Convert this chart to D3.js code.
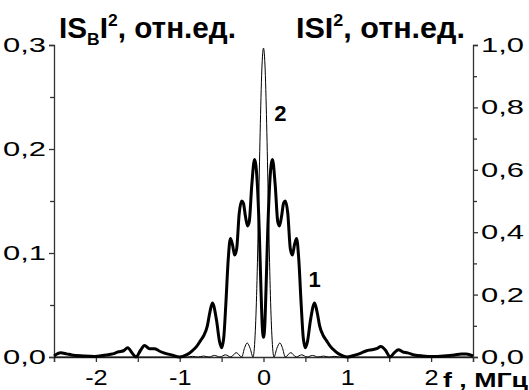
<!DOCTYPE html>
<html><head><meta charset="utf-8">
<script src="https://cdn.jsdelivr.net/npm/d3@7"></script>
<style>
html,body{margin:0;padding:0;background:#fff;}
svg text{font-family:"Liberation Sans",Arial,sans-serif;fill:#000;}
</style></head>
<body>
<svg id="c" width="529" height="390"></svg>
<script>
// Curve 1 (thick, left axis |S_B|^2): frequency (MHz) and value
const f1 = [-2.5,-2.42,-2.35,-2.29,-2.15,-2.02,-1.88,-1.8,-1.73,-1.67,-1.62,-1.57,-1.52,-1.47,-1.42,-1.36,-1.3,-1.25,-1.19,-1.1,-1.0,
  -0.92,-0.85,-0.8,-0.75,-0.71,-0.67,-0.64,-0.61,-0.56,-0.525,-0.5,-0.475,-0.45,-0.42,-0.395,-0.37,-0.345,-0.32,-0.29,-0.26,-0.24,-0.215,-0.19,-0.17,-0.14,-0.107,-0.075,-0.05,-0.03,-0.015,0,
  0.015,0.03,0.05,0.075,0.107,0.14,0.17,0.19,0.215,0.24,0.26,0.29,0.32,0.345,0.37,0.395,0.42,0.45,0.475,0.5,0.525,0.56,0.61,0.64,0.67,0.71,0.75,0.8,0.85,0.92,
  1.0,1.1,1.17,1.23,1.29,1.35,1.4,1.46,1.51,1.56,1.61,1.66,1.72,1.8,1.9,2.02,2.15,2.28,2.36,2.42,2.5];
const v1 = [0.001,0.004,0.003,0.002,0.001,0.0005,0.002,0.003,0.005,0.006,0.009,0.004,0.0,0.006,0.011,0.008,0.008,0.006,0.004,0.002,0.0,
  0.002,0.006,0.01,0.016,0.021,0.03,0.043,0.052,0.035,0.015,0.009,0.018,0.05,0.095,0.114,0.108,0.098,0.104,0.138,0.15,0.148,0.135,0.126,0.13,0.165,0.19,0.168,0.12,0.065,0.03,0.019,
  0.03,0.065,0.12,0.168,0.19,0.165,0.13,0.126,0.135,0.148,0.15,0.138,0.104,0.098,0.108,0.114,0.095,0.05,0.018,0.009,0.015,0.035,0.052,0.043,0.03,0.021,0.016,0.01,0.006,0.002,
  0.0,0.002,0.004,0.006,0.007,0.008,0.01,0.006,0.0,0.004,0.007,0.005,0.004,0.002,0.001,0.0005,0.001,0.002,0.003,0.003,0.001];

// Curve 2 (thin, right axis |S|^2)
const f2 = [-2.5,-1.0,-0.91,-0.845,-0.78,-0.715,-0.65,-0.585,-0.52,-0.455,-0.39,-0.325,-0.26,-0.225,-0.195,-0.16,-0.125,-0.1,-0.08,-0.06,-0.04,-0.02,0,
  0.02,0.04,0.06,0.08,0.1,0.125,0.16,0.195,0.225,0.26,0.325,0.39,0.455,0.52,0.585,0.65,0.715,0.78,0.845,0.91,1.0,2.5];
const v2 = [0,0,0,0.002,0,0.003,0,0.005,0,0.007,0,0.014,0,0.03,0.045,0.028,0,0.07,0.22,0.46,0.72,0.92,0.99,
  0.92,0.72,0.46,0.22,0.07,0,0.028,0.045,0.03,0,0.014,0,0.007,0,0.005,0,0.003,0,0.002,0,0,0];

const xMajor = [-2,-1,0,1,2];
const xMinor = [-2.5,-1.5,-0.5,0.5,1.5,2.5];
const yLeftMajor = [0,0.1,0.2,0.3];
const yLeftMinor = [0.05,0.15,0.25];
const yRightMajor = [0,0.2,0.4,0.6,0.8,1.0];
const yRightMinor = [0.1,0.3,0.5,0.7,0.9];

const svg = d3.select("#c");
const x = d3.scaleLinear().domain([-2.5,2.5]).range([54,473]);
const yL = d3.scaleLinear().domain([0,0.3]).range([357,45]);
const yR = d3.scaleLinear().domain([0,1]).range([357,45]);
const fmt = d => d3.format(".1f")(d).replace(".", ",");

function stretch(sel, w){
  sel.each(function(){
    this.setAttribute("textLength", w);
    this.setAttribute("lengthAdjust","spacingAndGlyphs");
  });
}
function styleAxis(g, fs){
  g.select(".domain").attr("stroke","#333").attr("stroke-width",1.3);
  g.selectAll(".tick line").attr("stroke","#333").attr("stroke-width",1.3);
  g.selectAll("text").attr("font-size",fs).attr("fill","#000");
}
// x axis
const gx = svg.append("g").attr("transform","translate(0,357)")
  .call(d3.axisBottom(x).tickValues(xMajor).tickSize(5).tickPadding(7).tickFormat(d=>String(d)));
styleAxis(gx, 22);
gx.selectAll(".tick text").each(function(){
  const w = this.getComputedTextLength();
  this.setAttribute("textLength", w*1.15);
  this.setAttribute("lengthAdjust","spacingAndGlyphs");
});
const gx2 = svg.append("g").attr("transform","translate(0,357)")
  .call(d3.axisBottom(x).tickValues(xMinor).tickSize(5).tickFormat(""));
styleAxis(gx2, 22); gx2.select(".domain").remove();

// left axis
const gl = svg.append("g").attr("transform","translate(54,0)")
  .call(d3.axisLeft(yL).tickValues(yLeftMajor).tickSize(5).tickPadding(3).tickFormat(fmt));
styleAxis(gl, 20);
stretch(gl.selectAll(".tick text"), 43);
const gl2 = svg.append("g").attr("transform","translate(54,0)")
  .call(d3.axisLeft(yL).tickValues(yLeftMinor).tickSize(4).tickFormat(""));
styleAxis(gl2, 20); gl2.select(".domain").remove();

// right axis
const gr = svg.append("g").attr("transform","translate(473,0)")
  .call(d3.axisRight(yR).tickValues(yRightMajor).tickSize(5).tickPadding(3).tickFormat(fmt));
styleAxis(gr, 20);
stretch(gr.selectAll(".tick text"), 43);
const gr2 = svg.append("g").attr("transform","translate(473,0)")
  .call(d3.axisRight(yR).tickValues(yRightMinor).tickSize(4).tickFormat(""));
styleAxis(gr2, 20); gr2.select(".domain").remove();

// curves
const d1 = f1.map((f,i)=>[f,v1[i]]);
const d2 = f2.map((f,i)=>[f,v2[i]]);
svg.append("path").datum(d2)
  .attr("fill","none").attr("stroke","#000").attr("stroke-width",1)
  .attr("d", d3.line().x(d=>x(d[0])).y(d=>yR(d[1])).curve(d3.curveMonotoneX));
svg.append("path").datum(d1)
  .attr("fill","none").attr("stroke","#000").attr("stroke-width",3)
  .attr("stroke-linejoin","round")
  .attr("d", d3.line().x(d=>x(d[0])).y(d=>yL(d[1])).curve(d3.curveMonotoneX));

// curve labels
svg.append("text").attr("x",x(0.61)).attr("y",yL(0.067)).attr("font-size",22).attr("font-weight","bold").attr("text-anchor","middle").text("1");
svg.append("text").attr("x",x(0.2)).attr("y",yR(0.755)).attr("font-size",22).attr("font-weight","bold").attr("text-anchor","middle").text("2");

// titles
const t1 = svg.append("text").attr("x",59).attr("y",38).attr("font-size",29).attr("font-weight","bold");
t1.append("tspan").text("IS");
t1.append("tspan").attr("font-size",17).attr("dy",7).text("B");
t1.append("tspan").attr("dy",-7).text("I");
t1.append("tspan").attr("font-size",17).attr("dy",-12).text("2");
t1.append("tspan").attr("dy",12).text(", отн.ед.");
stretch(t1, 177);

const t2 = svg.append("text").attr("x",296).attr("y",38).attr("font-size",29).attr("font-weight","bold");
t2.append("tspan").text("ISI");
t2.append("tspan").attr("font-size",17).attr("dy",-12).text("2");
t2.append("tspan").attr("dy",12).text(", отн.ед.");
stretch(t2, 169);

// x axis label
const xl = svg.append("text").attr("x",443).attr("y",387).attr("font-size",21).attr("font-weight","bold").text("f , МГц");
stretch(xl, 85);
</script>
</body></html>
